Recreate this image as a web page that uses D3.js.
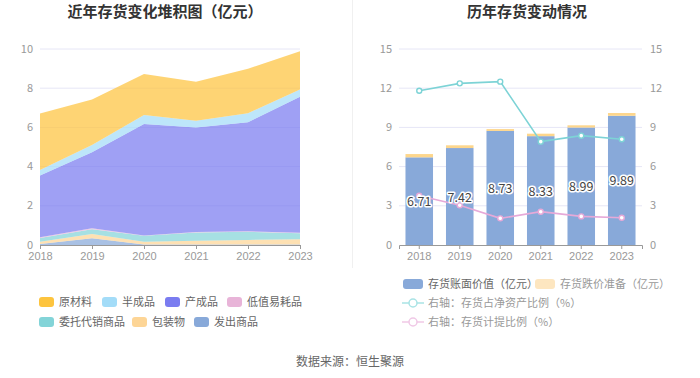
<!DOCTYPE html>
<html>
<head>
<meta charset="utf-8">
<script src="https://cdn.jsdelivr.net/npm/d3@7"></script>
<style>
  body { margin: 0; background: #fff; }
  svg { font-family: "Noto Sans CJK SC", "Noto Sans", sans-serif; }
</style>
</head>
<body>
<div class="chart"></div>
<script>
// DATA ------------------------------
let years = ["2018", "2019", "2020", "2021", "2022", "2023"];

// left stacked area, bottom -> top (亿元)
let fachu = [0.05, 0.34, 0.03, 0.03, 0.03, 0.03];      // 发出商品
let baozhuang = [0.12, 0.22, 0.14, 0.19, 0.23, 0.26];  // 包装物
let weituo = [0.19, 0.24, 0.30, 0.42, 0.41, 0.31];     // 委托代销商品
let dizhi = [0.03, 0.05, 0.01, 0.02, 0.03, 0.03];      // 低值易耗品
let chengpin = [3.15, 3.88, 5.69, 5.34, 5.56, 6.94];   // 产成品
let banchengpin = [0.29, 0.37, 0.46, 0.34, 0.46, 0.37];// 半成品
let yuancailiao = [2.88, 2.32, 2.10, 1.99, 2.27, 1.95];// 原材料

// right chart
let bookValue = [6.71, 7.42, 8.73, 8.33, 8.99, 9.89];  // 存货账面价值
let impairment = [0.25, 0.21, 0.14, 0.19, 0.17, 0.21]; // 存货跌价准备
let ratioNetAsset = [11.8, 12.37, 12.5, 7.91, 8.37, 8.09]; // 存货占净资产比例
let ratioProvision = [3.77, 3.04, 2.04, 2.55, 2.19, 2.09]; // 存货计提比例

let leftTicks = [0, 2, 4, 6, 8, 10];
let rightTicks = [0, 3, 6, 9, 12, 15];

// series meta (name, values, colour)
let areaSeries = [
  { name: "发出商品", values: fachu, color: "#88a9d9" },
  { name: "包装物", values: baozhuang, color: "#fdd596" },
  { name: "委托代销商品", values: weituo, color: "#83d4d8" },
  { name: "低值易耗品", values: dizhi, color: "#e8b4d8" },
  { name: "产成品", values: chengpin, color: "#7a7cf0" },
  { name: "半成品", values: banchengpin, color: "#a3dcf8" },
  { name: "原材料", values: yuancailiao, color: "#fdc43e" }
];
let legendOrder = ["原材料", "半成品", "产成品", "低值易耗品", "委托代销商品", "包装物", "发出商品"];

// CHART INIT ------------------------------
let svg = d3.select(".chart")
  .append("svg")
  .attr("width", 700)
  .attr("height", 378);

// titles
svg.append("text").attr("x", 165).attr("y", 17)
  .attr("text-anchor", "middle").attr("font-size", 15).attr("font-weight", "bold")
  .attr("fill", "#333").text("近年存货变化堆积图（亿元）");
svg.append("text").attr("x", 527).attr("y", 17)
  .attr("text-anchor", "middle").attr("font-size", 15).attr("font-weight", "bold")
  .attr("fill", "#333").text("历年存货变动情况");

// divider
svg.append("line").attr("x1", 352.5).attr("x2", 352.5).attr("y1", 0).attr("y2", 268)
  .attr("stroke", "#f0f0f0");

// LEFT: stacked area ------------------------------
let x1 = d3.scalePoint().domain(years).range([40, 300]);
let y1 = d3.scaleLinear().domain([0, 10]).range([245, 49]);

let left = svg.append("g");

left.selectAll(".grid1")
  .data(leftTicks.filter(d => d > 0))
  .enter().append("line")
  .attr("x1", 40).attr("x2", 300)
  .attr("y1", d => y1(d)).attr("y2", d => y1(d))
  .attr("stroke", "#e6e6f6");

let table = years.map((yr, i) => {
  let row = { year: yr };
  areaSeries.forEach(s => { row[s.name] = s.values[i]; });
  return row;
});
let stack = d3.stack().keys(areaSeries.map(s => s.name));
let stacked = stack(table);

let area = d3.area()
  .x(d => x1(d.data.year))
  .y0(d => y1(d[0]))
  .y1(d => y1(d[1]));

left.selectAll(".area")
  .data(stacked)
  .enter().append("path")
  .attr("class", "area")
  .attr("d", area)
  .attr("fill", (d, i) => areaSeries[i].color)
  .attr("fill-opacity", 0.72);

let xAxis1 = left.append("g")
  .attr("transform", "translate(0,245)")
  .call(d3.axisBottom(x1).tickSize(4).tickPadding(3));
xAxis1.select(".domain").attr("stroke", "#999");
xAxis1.selectAll(".tick line").attr("stroke", "#999");
xAxis1.selectAll("text").attr("fill", "#999").attr("font-size", 11);

left.selectAll(".ylab1")
  .data(leftTicks)
  .enter().append("text")
  .attr("x", 33).attr("y", d => y1(d) + 3.5)
  .attr("text-anchor", "end").attr("font-size", 11).attr("fill", "#999")
  .text(d => d);

// left legend
let legPos = [
  [39, 302], [102, 302], [165, 302], [227, 302],
  [39, 322], [132, 322], [194, 322]
];
legendOrder.forEach((name, i) => {
  let s = areaSeries.find(a => a.name === name);
  let g = svg.append("g").attr("transform", "translate(" + legPos[i][0] + "," + legPos[i][1] + ")");
  g.append("rect").attr("x", 0).attr("y", -5).attr("width", 15).attr("height", 10)
    .attr("rx", 3).attr("fill", s.color);
  g.append("text").attr("x", 20).attr("y", 4).attr("font-size", 11).attr("fill", "#666").text(name);
});

// RIGHT: bars + lines ------------------------------
let x2 = d3.scaleBand().domain(years).range([399, 642]).paddingInner(0.32).paddingOuter(0.16);
let y2 = d3.scaleLinear().domain([0, 15]).range([245, 49]);
let y3 = d3.scaleLinear().domain([0, 15]).range([245, 49]);

let right = svg.append("g");

right.selectAll(".grid2")
  .data(rightTicks.filter(d => d > 0))
  .enter().append("line")
  .attr("x1", 399).attr("x2", 642)
  .attr("y1", d => y2(d)).attr("y2", d => y2(d))
  .attr("stroke", "#e6e6f6");

right.selectAll(".bar1")
  .data(bookValue)
  .enter().append("rect")
  .attr("x", (d, i) => x2(years[i]))
  .attr("y", d => y2(d))
  .attr("width", x2.bandwidth())
  .attr("height", d => y2(0) - y2(d))
  .attr("fill", "#88a9d9");

right.selectAll(".bar2")
  .data(impairment)
  .enter().append("rect")
  .attr("x", (d, i) => x2(years[i]))
  .attr("y", (d, i) => y2(bookValue[i] + d))
  .attr("width", x2.bandwidth())
  .attr("height", d => y2(0) - y2(d))
  .attr("fill", "#fdd68c");

let xAxis2 = right.append("g")
  .attr("transform", "translate(0,245)")
  .call(d3.axisBottom(x2).tickSize(4).tickPadding(3));
xAxis2.select(".domain").attr("stroke", "#999");
xAxis2.selectAll(".tick line").attr("stroke", "#999");
xAxis2.selectAll("text").attr("fill", "#999").attr("font-size", 11);

right.selectAll(".ylab2")
  .data(rightTicks)
  .enter().append("text")
  .attr("x", 392).attr("y", d => y2(d) + 3.5)
  .attr("text-anchor", "end").attr("font-size", 11).attr("fill", "#999")
  .text(d => d);
right.selectAll(".ylab3")
  .data(rightTicks)
  .enter().append("text")
  .attr("x", 650).attr("y", d => y3(d) + 3.5)
  .attr("text-anchor", "start").attr("font-size", 11).attr("fill", "#999")
  .text(d => d);

let cx = yr => x2(yr) + x2.bandwidth() / 2;
let lines = [
  { values: ratioNetAsset, color: "#7dd3d6" },
  { values: ratioProvision, color: "#e6a9d8" }
];
lines.forEach(l => {
  right.append("path")
    .datum(l.values)
    .attr("d", d3.line().x((d, i) => cx(years[i])).y(d => y3(d)))
    .attr("fill", "none").attr("stroke", l.color).attr("stroke-width", 1.6);
  right.selectAll(null)
    .data(l.values)
    .enter().append("circle")
    .attr("cx", (d, i) => cx(years[i]))
    .attr("cy", d => y3(d))
    .attr("r", 2.5)
    .attr("fill", "#fff").attr("stroke", l.color).attr("stroke-width", 1.4);
});

// bar labels
right.selectAll(".barlab")
  .data(bookValue)
  .enter().append("text")
  .attr("x", (d, i) => cx(years[i]))
  .attr("y", d => (y2(d) + y2(0)) / 2 + 5)
  .attr("text-anchor", "middle").attr("font-size", 12.5)
  .attr("fill", "#444").attr("stroke", "#fff").attr("stroke-width", 3)
  .attr("paint-order", "stroke").attr("stroke-linejoin", "round")
  .text(d => d.toFixed(2));

// right legend
let rl = svg.append("g");
rl.append("rect").attr("x", 403).attr("y", 279).attr("width", 20).attr("height", 10).attr("rx", 3).attr("fill", "#88a9d9");
rl.append("text").attr("x", 428).attr("y", 288).attr("font-size", 11).attr("fill", "#666").text("存货账面价值（亿元）");
rl.append("rect").attr("x", 535).attr("y", 279).attr("width", 20).attr("height", 10).attr("rx", 3).attr("fill", "#fde6c0");
rl.append("text").attr("x", 560).attr("y", 288).attr("font-size", 11).attr("fill", "#999").text("存货跌价准备（亿元）");

let lineLeg = [
  { y: 303, color: "#a9e3e5", text: "右轴：存货占净资产比例（%）" },
  { y: 322, color: "#f0c8e6", text: "右轴：存货计提比例（%）" }
];
lineLeg.forEach(l => {
  rl.append("line").attr("x1", 402).attr("x2", 424).attr("y1", l.y).attr("y2", l.y)
    .attr("stroke", l.color).attr("stroke-width", 1.5);
  rl.append("circle").attr("cx", 413).attr("cy", l.y).attr("r", 4)
    .attr("fill", "#fff").attr("stroke", l.color).attr("stroke-width", 1.5);
  rl.append("text").attr("x", 428).attr("y", l.y + 4).attr("font-size", 11).attr("fill", "#999").text(l.text);
});

// source
svg.append("text").attr("x", 350).attr("y", 366)
  .attr("text-anchor", "middle").attr("font-size", 12).attr("fill", "#666")
  .text("数据来源：恒生聚源");
</script>
</body>
</html>
